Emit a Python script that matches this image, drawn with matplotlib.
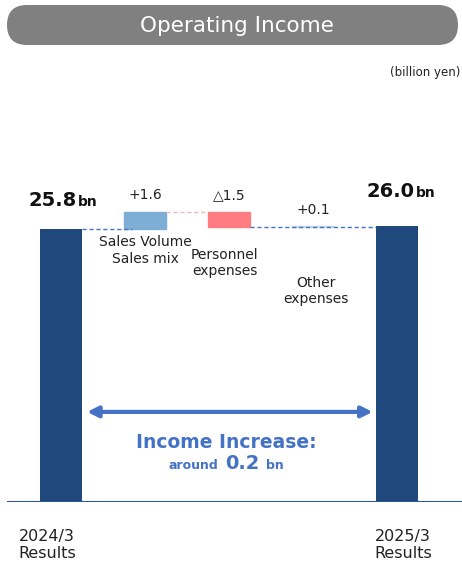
import matplotlib
matplotlib.use("Agg")
import matplotlib.pyplot as plt
from matplotlib.patches import FancyBboxPatch
from matplotlib.transforms import IdentityTransform

# ---- data ----
categories = ["2024/3\nResults", "Sales Volume\nSales mix", "Personnel\nexpenses", "Other\nexpenses", "2025/3\nResults"]
start_value = 25.8
deltas = [1.6, -1.5, 0.1]
end_value = 26.0
delta_labels = ["+1.6", "\u25b31.5", "+0.1"]
title = "Operating Income"
unit = "(billion yen)"

W, H = 462, 564
fig = plt.figure(figsize=(W / 100, H / 100), dpi=100)
plt.rcParams['font.family'] = ['DejaVu Sans']

def px(x, y):
    return x / W, 1 - y / H

# axes: baseline at y=502 px, x from 7 to 462 px
ax = fig.add_axes([7 / W, (H - 502) / H, (462 - 7) / W, (502 - 60) / H])
ax.set_xlim(-0.643, 4.774)
ax.set_ylim(0, 41.7)
ax.axis('off')
ax.axhline(0, color="#2F5597", lw=1.5, xmin=0, xmax=1)

dark = "#1F497D"
colors = ["#7EADD6", "#FF7C80", "#C5D6E6"]
bw = 0.5
ax.bar(0, start_value, width=bw, color=dark)
ax.bar(4, end_value, width=bw, color=dark)
level = start_value
tops = []
for i, d in enumerate(deltas):
    bottom = level if d >= 0 else level + d
    ax.bar(i + 1, abs(d), bottom=bottom, width=bw, color=colors[i], edgecolor=colors[i], lw=1)
    tops.append(max(level, level + d))
    level += d

# connectors
ax.plot([0 + bw / 2, 1 - bw / 2 + 0.1], [start_value, start_value], ls=(0, (3, 2)), color="#4472C4", lw=1)
ax.plot([1 + bw / 2, 2 - bw / 2], [start_value + deltas[0]] * 2, ls=(0, (3, 2)), color="#F4B6B8", lw=1)
ax.plot([2 + bw / 2, 4 - bw / 2], [start_value + deltas[0] + deltas[1]] * 2, ls=(0, (3, 2)), color="#4472C4", lw=1)

# delta labels
for i, lab in enumerate(delta_labels):
    ax.annotate(lab, (i + 1, tops[i]), xytext=(0, 7), textcoords="offset points",
                ha="center", va="bottom", fontsize=10, color="#222222")

# category labels for deltas
cat_offsets = [(0, -5), (-3, -14), (2, -34)]
for i in range(3):
    ax.annotate(categories[i + 1], (i + 1, start_value), xytext=cat_offsets[i], textcoords="offset points",
                ha="center", va="top", fontsize=10, color="#222222", linespacing=1.2,
                multialignment="center")

# result labels
fig.text(*px(77, 206), f"{start_value:.1f}", ha="right", va="baseline", fontsize=14, fontweight="bold", color="#111111")
fig.text(*px(78, 206), "bn", ha="left", va="baseline", fontsize=10, fontweight="bold", color="#111111")
fig.text(*px(415, 197), f"{end_value:.1f}", ha="right", va="baseline", fontsize=14, fontweight="bold", color="#111111")
fig.text(*px(416, 197), "bn", ha="left", va="baseline", fontsize=10, fontweight="bold", color="#111111")

# bottom labels
fig.text(*px(47, 545), categories[0], ha="center", va="center", fontsize=11.5, color="#222222",
         linespacing=1.1, multialignment="center")
fig.text(*px(403, 545), categories[4], ha="center", va="center", fontsize=11.5, color="#222222",
         linespacing=1.1, multialignment="center")

# arrow
blue = "#4472C4"
ax.annotate("", xy=(4 - bw / 2 - 0.04, 8.5), xytext=(bw / 2 + 0.06, 8.5),
            arrowprops=dict(arrowstyle="<|-|>", color=blue, lw=3, mutation_scale=16, shrinkA=0, shrinkB=0))
fig.text(*px(226, 448), "Income Increase:", ha="center", va="baseline", fontsize=13.5, fontweight="bold", color=blue)
fig.text(*px(218, 469), "around", ha="right", va="baseline", fontsize=9, fontweight="bold", color=blue)
fig.text(*px(242, 469), f"{end_value - start_value:.1f}", ha="center", va="baseline", fontsize=14, fontweight="bold", color=blue)
fig.text(*px(266, 469), "bn", ha="left", va="baseline", fontsize=9, fontweight="bold", color=blue)

# title pill (display pixel coords, origin bottom-left)
pill = FancyBboxPatch((7, H - 45), 451, 40, boxstyle="round,pad=0,rounding_size=20",
                      transform=IdentityTransform(), facecolor="#808080", edgecolor="none")
fig.patches.append(pill)
fig.text(*px(237, 26), title, ha="center", va="center", fontsize=15.5, color="white")
fig.text(*px(460, 73), unit, ha="right", va="center", fontsize=8.5, color="#222222")

fig.savefig("out.png", dpi=100)
